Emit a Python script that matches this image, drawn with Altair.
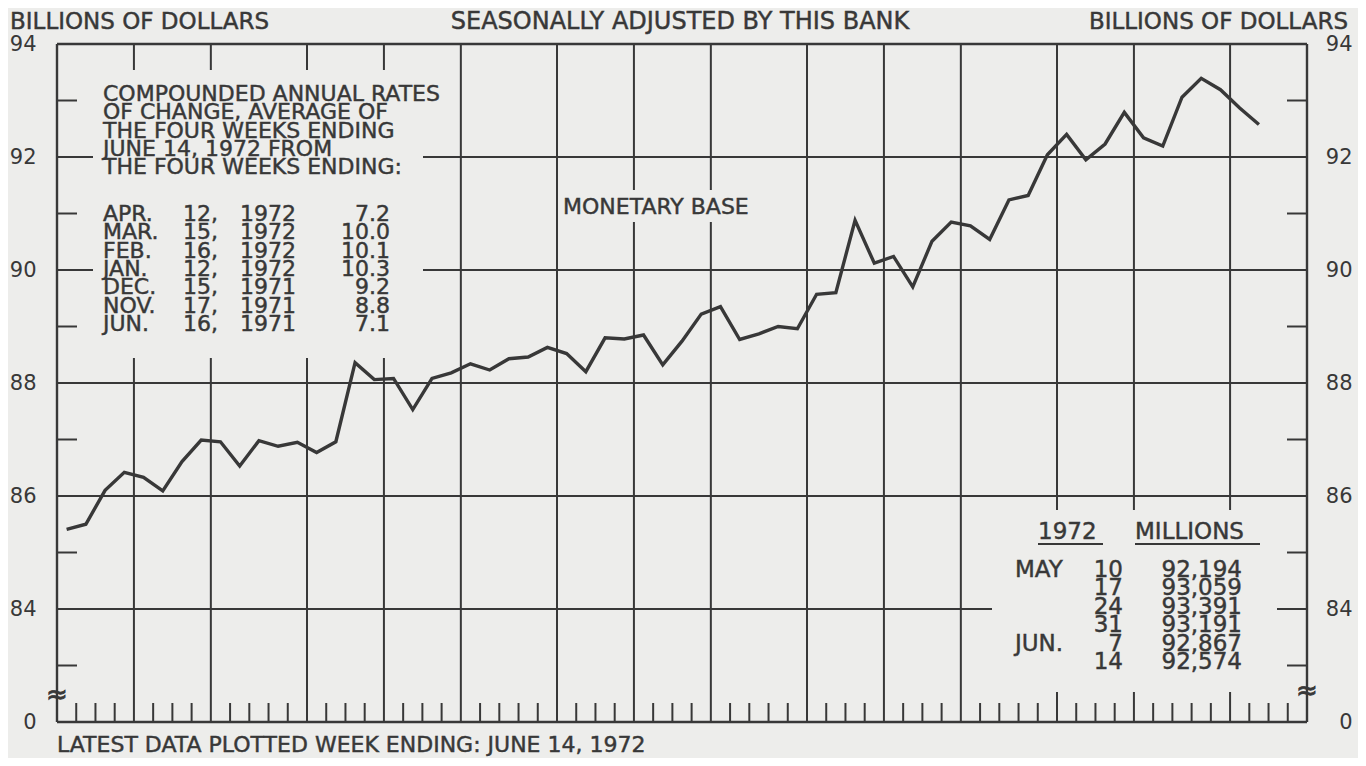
import altair as alt
import pandas as pd

# ---------------- data ----------------
# Monetary base, weekly averages (week ending Wednesday), billions of dollars,
# first week ending April 7, 1971, last week ending June 14, 1972
MONETARY_BASE = [
    85.41, 85.50, 86.10, 86.42, 86.33, 86.09, 86.61, 86.99, 86.96, 86.53,
    86.98, 86.88, 86.95, 86.77, 86.96, 88.36, 88.06, 88.08, 87.53, 88.08,
    88.18, 88.34, 88.23, 88.43, 88.46, 88.63, 88.52, 88.20, 88.80, 88.78,
    88.85, 88.32, 88.74, 89.22, 89.35, 88.77, 88.87, 89.00, 88.96, 89.57,
    89.60, 90.88, 90.12, 90.24, 89.70, 90.51, 90.85, 90.78, 90.54, 91.24,
    91.32, 92.04, 92.40, 91.95, 92.23, 92.79, 92.34, 92.194, 93.059, 93.391,
    93.191, 92.867, 92.574,
]
# number of week-ending Wednesdays in each month, Apr 1971 .. Jun 1972
MONTH_WEEKS = [4, 4, 5, 4, 4, 5, 4, 4, 5, 4, 4, 5, 4, 5, 4]

Y_LABEL_VALUES = [82, 84, 86, 88, 90, 92, 94]
GRID_Y = [84, 86, 88, 90, 92]
MINOR_Y = [83, 85, 87, 89, 91, 93]

RATE_HEADER = [
    "COMPOUNDED ANNUAL RATES",
    "OF CHANGE, AVERAGE OF",
    "THE FOUR WEEKS ENDING",
    "JUNE 14, 1972 FROM",
    "THE FOUR WEEKS ENDING:",
]
RATE_MONTHS = ["APR.", "MAR.", "FEB.", "JAN.", "DEC.", "NOV.", "JUN."]
RATE_DAYS = ["12,", "15,", "16,", "12,", "15,", "17,", "16,"]
RATE_YEARS = ["1972", "1972", "1972", "1972", "1971", "1971", "1971"]
RATE_VALUES = ["7.2", "10.0", "10.1", "10.3", "9.2", "8.8", "7.1"]

TABLE_HEAD = ["1972", "MILLIONS"]
TABLE_MONTHS = ["MAY", "", "", "", "JUN.", ""]
TABLE_DAYS = ["10", "17", "24", "31", "7", "14"]
TABLE_VALUES = ["92,194", "93,059", "93,391", "93,191", "92,867", "92,574"]

TITLE = "SEASONALLY ADJUSTED BY THIS BANK"
UNIT = "BILLIONS OF DOLLARS"
SERIES = "MONETARY BASE"
FOOT = "LATEST DATA PLOTTED WEEK ENDING: JUNE 14, 1972"

# ---------------- layout / style ----------------
INK = "#383838"
BG = "#ededeb"
FONT = "DejaVu Sans"
PX_W, PX_H = 1250, 678
X_MAX = sum(MONTH_WEEKS)
Y_MIN, Y_MAX = 82, 94

XS = alt.Scale(domain=[0, X_MAX], nice=False, zero=False)
YS = alt.Scale(domain=[Y_MIN, Y_MAX], nice=False, zero=False)


def wx(px):  # plot pixel -> week units
    return px * X_MAX / PX_W


def vy(py):  # plot pixel -> value units
    return Y_MAX - py * (Y_MAX - Y_MIN) / PX_H


# month boundaries and weekly boundaries
month_bounds = []
acc = 0
for w in MONTH_WEEKS[:-1]:
    acc += w
    month_bounds.append(acc)
week_bounds = [k for k in range(1, X_MAX) if k not in month_bounds]

line_df = pd.DataFrame({"week": [i + 0.5 for i in range(len(MONETARY_BASE))],
                        "base": MONETARY_BASE})


def rules(df, width=2.0):
    return alt.Chart(df).mark_rule(color=INK, strokeWidth=width).encode(
        x=alt.X("x:Q", scale=XS, axis=None), x2="x2:Q",
        y=alt.Y("y:Q", scale=YS, axis=None), y2="y2:Q")


# horizontal grid
grid_h = rules(pd.DataFrame({"x": 0, "x2": X_MAX, "y": GRID_Y, "y2": GRID_Y}), 2.0)
# vertical month lines
grid_v = rules(pd.DataFrame({"x": month_bounds, "x2": month_bounds,
                             "y": Y_MIN, "y2": Y_MAX}), 2.0)

# knockout boxes behind annotations (plot pixels: left, right, top, bottom)
boxes = [(36, 366, 26, 314), (935, 1220, 466, 648), (503, 703, 146, 178)]
box_df = pd.DataFrame([{"x": wx(l), "x2": wx(r), "y": vy(t), "y2": vy(b)}
                       for l, r, t, b in boxes])
knock = alt.Chart(box_df).mark_rect(color=BG).encode(
    x=alt.X("x:Q", scale=XS, axis=None), x2="x2:Q",
    y=alt.Y("y:Q", scale=YS, axis=None), y2="y2:Q")

# minor ticks on y (both sides) and weekly ticks at bottom
tick_w = wx(20)
minor_l = rules(pd.DataFrame({"x": 0, "x2": tick_w, "y": MINOR_Y, "y2": MINOR_Y}), 2.0)
minor_r = rules(pd.DataFrame({"x": X_MAX - tick_w, "x2": X_MAX,
                              "y": MINOR_Y, "y2": MINOR_Y}), 2.0)
tick_h = (Y_MAX - Y_MIN) * 19 / PX_H
weekly = rules(pd.DataFrame({"x": week_bounds, "x2": week_bounds,
                             "y": Y_MIN, "y2": Y_MIN + tick_h}), 2.0)

# frame
frame = rules(pd.DataFrame([
    {"x": 0, "x2": X_MAX, "y": Y_MAX, "y2": Y_MAX},
    {"x": 0, "x2": X_MAX, "y": Y_MIN, "y2": Y_MIN},
    {"x": 0, "x2": 0, "y": Y_MIN, "y2": Y_MAX},
    {"x": X_MAX, "x2": X_MAX, "y": Y_MIN, "y2": Y_MAX},
]), 2.4)

# underlines of the table header
underline = rules(pd.DataFrame([
    {"x": wx(981), "x2": wx(1046), "y": vy(500), "y2": vy(500)},
    {"x": wx(1078), "x2": wx(1203), "y": vy(500), "y2": vy(500)},
]), 2.0)

label_expr = "datum.value == 82 ? '0' : datum.label"

series = alt.Chart(line_df).mark_line(color=INK, strokeWidth=3.4).encode(
    x=alt.X("week:Q", scale=XS, axis=None),
    y=alt.Y("base:Q", scale=YS, axis=alt.Axis(
        orient="left", values=Y_LABEL_VALUES, labelExpr=label_expr, title=None,
        ticks=False, domain=False, grid=False, labelPadding=21,
        labelFont=FONT, labelFontSize=21, labelColor=INK)),
)
right_axis = alt.Chart(line_df).mark_point(opacity=0).encode(
    x=alt.X("week:Q", scale=XS, axis=None),
    y=alt.Y("base:Q", scale=YS, axis=alt.Axis(
        orient="right", values=Y_LABEL_VALUES, labelExpr=label_expr, title=None,
        ticks=False, domain=False, grid=False, labelPadding=45, labelAlign="right",
        labelFont=FONT, labelFontSize=21, labelColor=INK)),
)


def texts(items, align="left", size=22, weight=0.45):
    """Single-line texts; items are (text, plot-pixel x, plot-pixel y)."""
    items = [(t, wx(px), vy(py)) for t, px, py in items if t]
    df = pd.DataFrame(items, columns=["t", "x", "y"])
    return alt.Chart(df).mark_text(
        align=align, baseline="middle", font=FONT, fontSize=size, color=INK,
        stroke=INK, strokeWidth=weight,
    ).encode(x=alt.X("x:Q", scale=XS, axis=None),
             y=alt.Y("y:Q", scale=YS, axis=None),
             text="t:N")


hdr_rows = [50, 68.3, 86.6, 104.9, 123.2]
rate_rows = [170, 188.3, 206.6, 224.9, 243.2, 261.5, 279.8]
tab_rows = [526, 544.4, 562.8, 581.2, 599.6, 618]

left22 = ([(t, 46, r) for t, r in zip(RATE_HEADER, hdr_rows)]
          + [(t, 46, r) for t, r in zip(RATE_MONTHS, rate_rows)]
          + [(t, 126, r) for t, r in zip(RATE_DAYS, rate_rows)]
          + [(t, 183, r) for t, r in zip(RATE_YEARS, rate_rows)]
          + [(SERIES, 506, 163), (FOOT, 0, 701)])
right22 = [(t, 333, r) for t, r in zip(RATE_VALUES, rate_rows)]
left23 = ([(TABLE_HEAD[0], 981, 488), (TABLE_HEAD[1], 1078, 488)]
          + [(t, 958, r) for t, r in zip(TABLE_MONTHS, tab_rows)]
          + [(UNIT, -47, -22)])
right23 = ([(t, 1066, r) for t, r in zip(TABLE_DAYS, tab_rows)]
           + [(t, 1185, r) for t, r in zip(TABLE_VALUES, tab_rows)]
           + [(UNIT, 1291, -22)])

text_layers = [
    texts(left22, "left", 22),
    texts(right22, "right", 22),
    texts(left23, "left", 23),
    texts(right23, "right", 23),
    texts([(TITLE, 623, -22)], "center", 24),
    texts([("\u2248", 0, 651), ("\u2248", PX_W, 647)], "center", 26, 0.8),
]

chart = alt.layer(
    grid_h, grid_v, knock, minor_l, minor_r, weekly, frame, underline,
    series, right_axis, *text_layers,
).resolve_scale(y="independent").properties(
    width=PX_W, height=PX_H,
    autosize=alt.AutoSizeParams(type="none"),
    padding={"left": 49, "top": 36, "right": 51, "bottom": 36},
    background=BG,
).configure_view(strokeWidth=0)

chart.save("out.html", embed_options={"renderer": "svg", "actions": False})
